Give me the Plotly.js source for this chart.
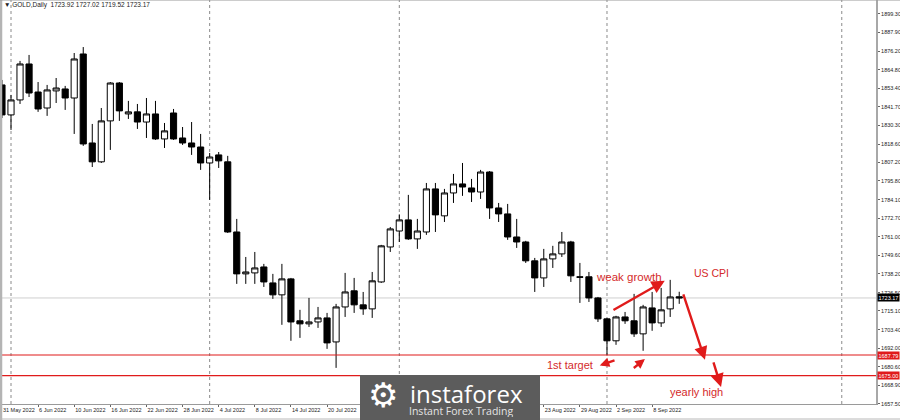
<!DOCTYPE html>
<html><head><meta charset="utf-8">
<script src="https://cdn.plot.ly/plotly-3.0.1.min.js"></script>
<style>html,body{margin:0;padding:0;background:#fff;overflow:hidden}#chart{width:900px;height:420px}</style>
</head><body><div id="chart"></div>
<script>
const dates = [
 "31 May 2022",
 "1 Jun 2022","2 Jun 2022","3 Jun 2022","6 Jun 2022","7 Jun 2022","8 Jun 2022","9 Jun 2022","10 Jun 2022",
 "13 Jun 2022","14 Jun 2022","15 Jun 2022","16 Jun 2022","17 Jun 2022","20 Jun 2022","21 Jun 2022","22 Jun 2022",
 "23 Jun 2022","24 Jun 2022","27 Jun 2022","28 Jun 2022","29 Jun 2022","30 Jun 2022",
 "1 Jul 2022","4 Jul 2022","5 Jul 2022","6 Jul 2022","7 Jul 2022","8 Jul 2022","11 Jul 2022","12 Jul 2022",
 "13 Jul 2022","14 Jul 2022","15 Jul 2022","18 Jul 2022","19 Jul 2022","20 Jul 2022","21 Jul 2022","22 Jul 2022",
 "25 Jul 2022","26 Jul 2022","27 Jul 2022","28 Jul 2022","29 Jul 2022",
 "1 Aug 2022","2 Aug 2022","3 Aug 2022","4 Aug 2022","5 Aug 2022","8 Aug 2022","9 Aug 2022","10 Aug 2022",
 "11 Aug 2022","12 Aug 2022","15 Aug 2022","16 Aug 2022","17 Aug 2022","18 Aug 2022","19 Aug 2022","22 Aug 2022",
 "23 Aug 2022","24 Aug 2022","25 Aug 2022","26 Aug 2022","29 Aug 2022","30 Aug 2022","31 Aug 2022",
 "1 Sep 2022","2 Sep 2022","5 Sep 2022","6 Sep 2022","7 Sep 2022","8 Sep 2022","9 Sep 2022","12 Sep 2022","13 Sep 2022"
];
const open = [1855.3,1836.7,1846.0,1868.3,1850.9,1841.0,1851.6,1852.8,1847.2,1874.5,
 1819.3,1807.6,1833.0,1856.5,1837.3,1838.6,1832.3,1837.3,1821.8,1837.9,
 1822.4,1819.3,1816.8,1806.9,1811.9,1807.6,1764.1,1738.1,1738.7,1742.4,
 1732.5,1725.1,1735.0,1709.0,1707.1,1708.3,1710.8,1695.9,1717.6,1727.6,
 1718.9,1716.4,1733.1,1754.8,1764.7,1771.6,1759.8,1764.1,1790.8,1774.1,
 1788.3,1793.9,1791.4,1788.9,1801.3,1779.0,1775.3,1761.0,1757.9,1746.2,
 1735.6,1747.4,1750.5,1757.9,1736.3,1736.3,1723.2,1710.2,1696.6,1711.4,
 1709.0,1700.9,1717.0,1707.7,1716.4,1723.92];
const high = [1858.4,1849.1,1870.2,1873.9,1857.1,1855.3,1859.6,1854.7,1875.1,1878.8,
 1831.1,1841.0,1857.1,1857.1,1845.4,1843.5,1847.2,1845.4,1831.7,1840.4,
 1829.2,1832.3,1824.9,1813.1,1813.7,1811.3,1772.2,1748.6,1751.7,1744.3,
 1738.1,1744.3,1735.6,1715.8,1723.2,1717.6,1713.9,1719.5,1738.7,1735.6,
 1726.9,1739.3,1756.1,1767.2,1775.0,1787.1,1772.2,1794.5,1794.5,1790.8,
 1800.1,1806.9,1797.0,1802.6,1801.9,1782.1,1781.5,1772.2,1758.6,1748.0,
 1753.6,1755.5,1764.1,1758.6,1744.9,1739.3,1723.8,1710.8,1712.1,1714.5,
 1725.7,1718.9,1726.9,1729.4,1734.4,1727.02];
const low = [1834.8,1827.4,1843.5,1847.8,1838.6,1836.1,1844.1,1839.8,1824.9,1817.5,
 1804.4,1806.9,1815.0,1833.0,1834.2,1828.0,1822.4,1821.2,1816.2,1821.2,
 1818.1,1811.9,1802.6,1784.0,1803.8,1763.5,1731.9,1731.9,1731.9,1730.0,
 1722.6,1706.5,1696.6,1698.4,1705.2,1704.6,1691.6,1679.8,1711.4,1713.9,
 1712.7,1710.8,1732.5,1751.7,1757.9,1759.2,1753.6,1762.3,1764.1,1770.3,
 1782.1,1786.5,1782.7,1784.6,1772.2,1770.3,1759.2,1754.2,1744.9,1726.9,
 1730.0,1741.8,1748.6,1733.1,1720.1,1720.7,1708.3,1687.8,1694.1,1707.1,
 1699.0,1690.4,1702.8,1705.2,1711.4,1719.52];
const close = [1836.7,1846.0,1868.3,1850.3,1840.4,1852.2,1853.4,1847.2,1871.4,1818.7,
 1807.6,1833.0,1856.5,1839.2,1838.6,1832.3,1837.3,1821.8,1826.8,1821.8,
 1819.3,1816.8,1806.9,1810.6,1808.2,1764.1,1738.1,1739.3,1741.8,1733.1,
 1725.1,1735.0,1708.3,1707.1,1708.3,1710.8,1695.3,1717.6,1726.9,1718.9,
 1716.4,1733.8,1755.5,1766.0,1771.6,1759.8,1764.7,1790.8,1774.7,1788.3,
 1793.9,1792.0,1788.9,1801.3,1779.0,1775.3,1761.0,1757.9,1746.2,1735.6,
 1747.4,1750.5,1757.9,1736.9,1736.0,1723.2,1710.2,1696.6,1711.4,1709.0,
 1700.9,1717.6,1707.7,1715.8,1723.8,1723.17];
const yTicks = [1899.3,1887.9,1876.2,1864.8,1853.4,1841.7,1830.3,1818.6,1807.2,1795.8,1784.1,
 1772.7,1761.0,1749.6,1738.2,1726.5,1715.1,1703.4,1692.0,1680.6,1668.9,1657.5];
const levels = [1687.79, 1675.00];
const gridBars = [1, 23, 44, 67, 93];
const symbol = "GOLD,Daily";

const idx = dates.map((d, i) => i);
const last = idx.length - 1;

// plot area in pixels: 0..876 x 0..404
const PW = 876, PH = 404;
const XR = [-0.218, 96.79];
const px = v => v / PW;
const py = v => (PH - v) / PH;
const barPx = i => (i - XR[0]) / (XR[1] - XR[0]) * PW;
const LOGO = {x0:360, x1:540, y0:375};

// date ticks every 4 bars, skipping those hidden under the logo
const tickIdx = idx.filter(i => i % 4 === 0 && !(barPx(i) + 30 > LOGO.x0 && barPx(i) < LOGO.x1));
const tickText = tickIdx.map(i => dates[i]);

const red = '#e01b1b';
const redText = '#d42a2a';
const tickFont = {family: 'Liberation Sans, Arial', size: 5.5, color: '#222'};

const shapes = [];
gridBars.forEach(b => shapes.push({type:'line', xref:'x', yref:'paper', x0:b, x1:b, y0:0, y1:1,
  line:{color:'#8a8a8a', width:1, dash:'dot'}, layer:'below'}));
shapes.push({type:'line', xref:'paper', yref:'y', x0:0, x1:1, y0:close[last], y1:close[last],
  line:{color:'#cfcfcf', width:1}, layer:'below'});
levels.forEach(l => shapes.push({type:'line', xref:'paper', yref:'y', x0:0, x1:1, y0:l, y1:l,
  line:{color:red, width:1.2}, layer:'above'}));
// frame
shapes.push({type:'line', xref:'paper', yref:'paper', x0:px(1), x1:px(1), y0:py(420), y1:1, line:{color:'#b4b4b4', width:2.5}, layer:'above'});
shapes.push({type:'line', xref:'paper', yref:'paper', x0:0, x1:px(900), y0:1, y1:1, line:{color:'#9a9a9a', width:1}, layer:'above'});
shapes.push({type:'line', xref:'paper', yref:'paper', x0:0, x1:px(900), y0:py(419), y1:py(419), line:{color:'#b8b8b8', width:1}, layer:'above'});
// logo box
shapes.push({type:'rect', xref:'paper', yref:'paper', x0:px(LOGO.x0), x1:px(LOGO.x1), y0:py(421), y1:py(LOGO.y0),
  fillcolor:'#5c5c5c', line:{width:0}, layer:'above'});

const arrow = (x, y, ax, ay, size) => ({x:x, y:y, ax:ax, ay:ay, xref:'x', yref:'y', axref:'x', ayref:'y',
  text:'', showarrow:true, arrowhead:2, arrowsize:size, arrowwidth:2.4, arrowcolor:red, standoff:0, startstandoff:0});
const lvlFont = {family:'Liberation Sans, Arial', size:5.5, color:'#fff'};

const annotations = [
  {xref:'paper', yref:'paper', x:px(2), y:py(5), xanchor:'left', yanchor:'middle', showarrow:false,
   text:'▼ ' + symbol + '  ' + [open[last], high[last], low[last], close[last]].map(v => v.toFixed(2)).join(' '),
   font:{family:tickFont.family, size:6.5, color:'#222'}},
  {xref:'paper', yref:'y', x:1, y:close[last], xanchor:'left', yanchor:'middle', xshift:0.5, showarrow:false,
   text:close[last].toFixed(2), bgcolor:'#000', borderpad:0.5, font:lvlFont},
  ...levels.map(l => ({xref:'paper', yref:'y', x:1, y:l, xanchor:'left', yanchor:'middle', xshift:0.5, showarrow:false,
   text:l.toFixed(2), bgcolor:red, borderpad:0.5, font:lvlFont})),
  // labels
  {x:69.4, y:1736.2, xref:'x', yref:'y', text:'weak growth', showarrow:false, font:{family:'Liberation Sans, Arial', size:11.5, color:redText}},
  {x:78.6, y:1738.9, xref:'x', yref:'y', text:'US CPI', showarrow:false, font:{family:'Liberation Sans, Arial', size:10.5, color:redText}},
  {x:62.9, y:1681.7, xref:'x', yref:'y', text:'1st target', showarrow:false, font:{family:'Liberation Sans, Arial', size:11, color:redText}},
  {x:76.9, y:1664.9, xref:'x', yref:'y', text:'yearly high', showarrow:false, font:{family:'Liberation Sans, Arial', size:11, color:redText}},
  // arrows
  arrow(73.4, 1733.8, 67.55, 1715.2, 1.1),
  arrow(77.85, 1684.8, 75.4, 1726.3, 1.1),
  arrow(79.63, 1668.0, 78.74, 1684.2, 1.1),
  arrow(66.2, 1681.3, 68.0, 1684.8, 0.8),
  arrow(71.2, 1685.3, 69.8, 1679.0, 0.8),
  // logo
  {xref:'paper', yref:'paper', x:px(383), y:py(395), xanchor:'center', yanchor:'middle', showarrow:false,
   text:'⚙', font:{family:'DejaVu Sans', size:34, color:'#ffffff'}},
  {xref:'paper', yref:'paper', x:px(408), y:py(393), xanchor:'left', yanchor:'middle', showarrow:false, height:22,
   text:'instaforex', font:{family:'Open Sans, Roboto, Liberation Sans', size:24, color:'#ffffff'}},
  {xref:'paper', yref:'paper', x:px(407), y:py(411.5), xanchor:'left', yanchor:'middle', showarrow:false, height:12,
   text:'Instant Forex Trading', font:{family:'Open Sans, Roboto, Liberation Sans', size:10.5, color:'#e4e4e4'}}
];

const trace = {
  type:'candlestick', x:idx, open:open, high:high, low:low, close:close,
  increasing:{line:{color:'#000', width:1}, fillcolor:'#ffffff'},
  decreasing:{line:{color:'#000', width:1}, fillcolor:'#000000'},
  whiskerwidth:0, hoverinfo:'skip', showlegend:false
};

const layout = {
  width:900, height:420,
  margin:{l:0, r:24, t:0, b:16, pad:0},
  paper_bgcolor:'#ffffff', plot_bgcolor:'rgba(0,0,0,0)',
  showlegend:false, boxgap:0.15, boxgroupgap:0.2,
  xaxis:{range:XR, showgrid:false, zeroline:false, rangeslider:{visible:false},
    tickmode:'array', tickvals:tickIdx, ticktext:tickText, tickangle:0, ticks:'outside', ticklen:2, tickcolor:'#666',
    ticklabelposition:'outside right', tickfont:tickFont, showline:true, linecolor:'#9a9a9a', linewidth:1,
    automargin:false, fixedrange:true},
  yaxis:{range:[1657.4, 1907.98], side:'right', showgrid:false, zeroline:false,
    tickmode:'array', tickvals:yTicks, ticktext:yTicks.map(v => v.toFixed(2)), ticks:'outside', ticklen:2, tickcolor:'#666',
    tickfont:tickFont, showline:true, linecolor:'#a8a8a8', linewidth:2, automargin:false, fixedrange:true},
  shapes:shapes, annotations:annotations
};

Plotly.newPlot('chart', [trace], layout, {displayModeBar:false, staticPlot:true});
</script>
</body></html>
